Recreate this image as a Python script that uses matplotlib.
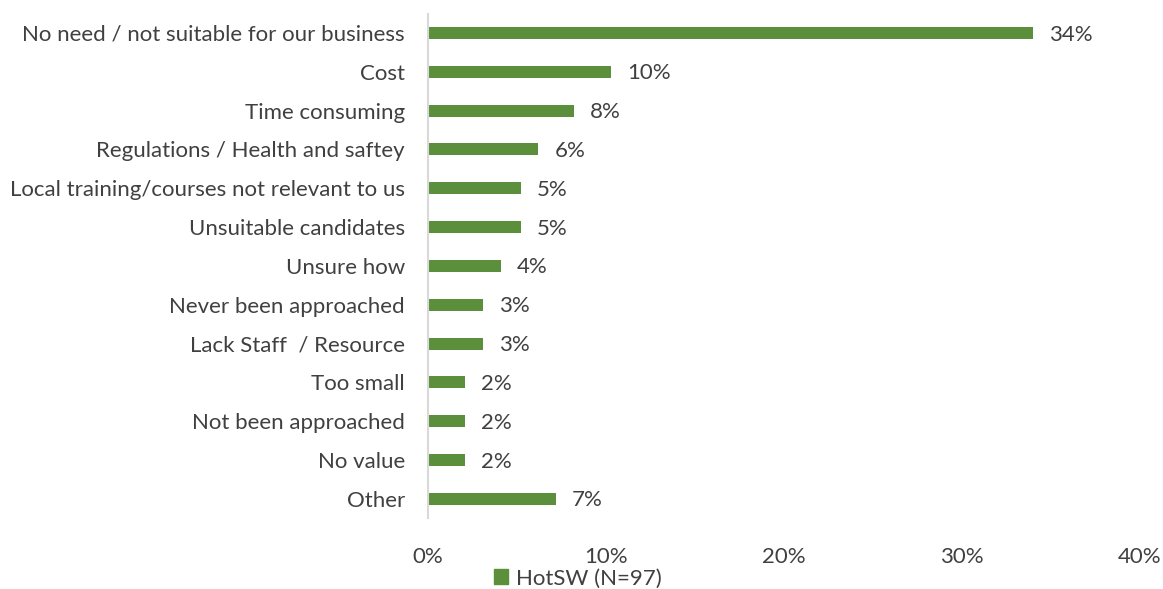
import matplotlib.pyplot as plt
from matplotlib.patches import Patch

# -----------------------------
# Data (share of respondents, %)
# -----------------------------
reasons = [
    "No need / not suitable for our business",
    "Cost",
    "Time consuming",
    "Regulations / Health and saftey",
    "Local training/courses not relevant to us",
    "Unsuitable candidates",
    "Unsure how",
    "Never been approached",
    "Lack Staff  / Resource",
    "Too small",
    "Not been approached",
    "No value",
    "Other",
]
shares = [34.0, 10.3, 8.2, 6.2, 5.2, 5.2, 4.1, 3.1, 3.1, 2.1, 2.1, 2.1, 7.2]
x_ticks = [0, 10, 20, 30, 40]
series_name = "HotSW (N=97)"

bar_color = "#5B8F3B"
text_color = "#404040"
fs = 16

plt.rcParams['font.family'] = ['Lato', 'DejaVu Sans']

fig = plt.figure(figsize=(11.63, 5.89), dpi=100)
ax = fig.add_axes([0.368, 0.120, 0.612, 0.857])

ypos = list(range(len(reasons)))
ax.barh(ypos, shares, height=0.31, color=bar_color)
ax.set_ylim(len(reasons) - 0.5, -0.5)
ax.set_xlim(0, 40)

# value labels
for y, v in zip(ypos, shares):
    ax.text(v + 0.9, y + 0.04, f"{v:.0f}%", va="center", ha="left",
            fontsize=fs, color=text_color)

ax.set_yticks(ypos)
ax.set_yticklabels(reasons, fontsize=fs, color=text_color)
ax.set_xticks(x_ticks)
ax.set_xticklabels([f"{t}%" for t in x_ticks], fontsize=fs, color=text_color)
ax.tick_params(axis="both", length=0)
ax.tick_params(axis="x", pad=20.5)
ax.tick_params(axis="y", pad=16.5)

for side in ["top", "right", "bottom"]:
    ax.spines[side].set_visible(False)
ax.spines["left"].set_color("#D9D9D9")
ax.spines["left"].set_linewidth(1.5)

fig.legend(handles=[Patch(color=bar_color, label=series_name)],
           loc="center", bbox_to_anchor=(0.497, 0.018), frameon=False,
           fontsize=fs, handlelength=0.65, handleheight=0.65, handletextpad=0.35,
           labelcolor=text_color)

fig.savefig("out.png", dpi=100)
